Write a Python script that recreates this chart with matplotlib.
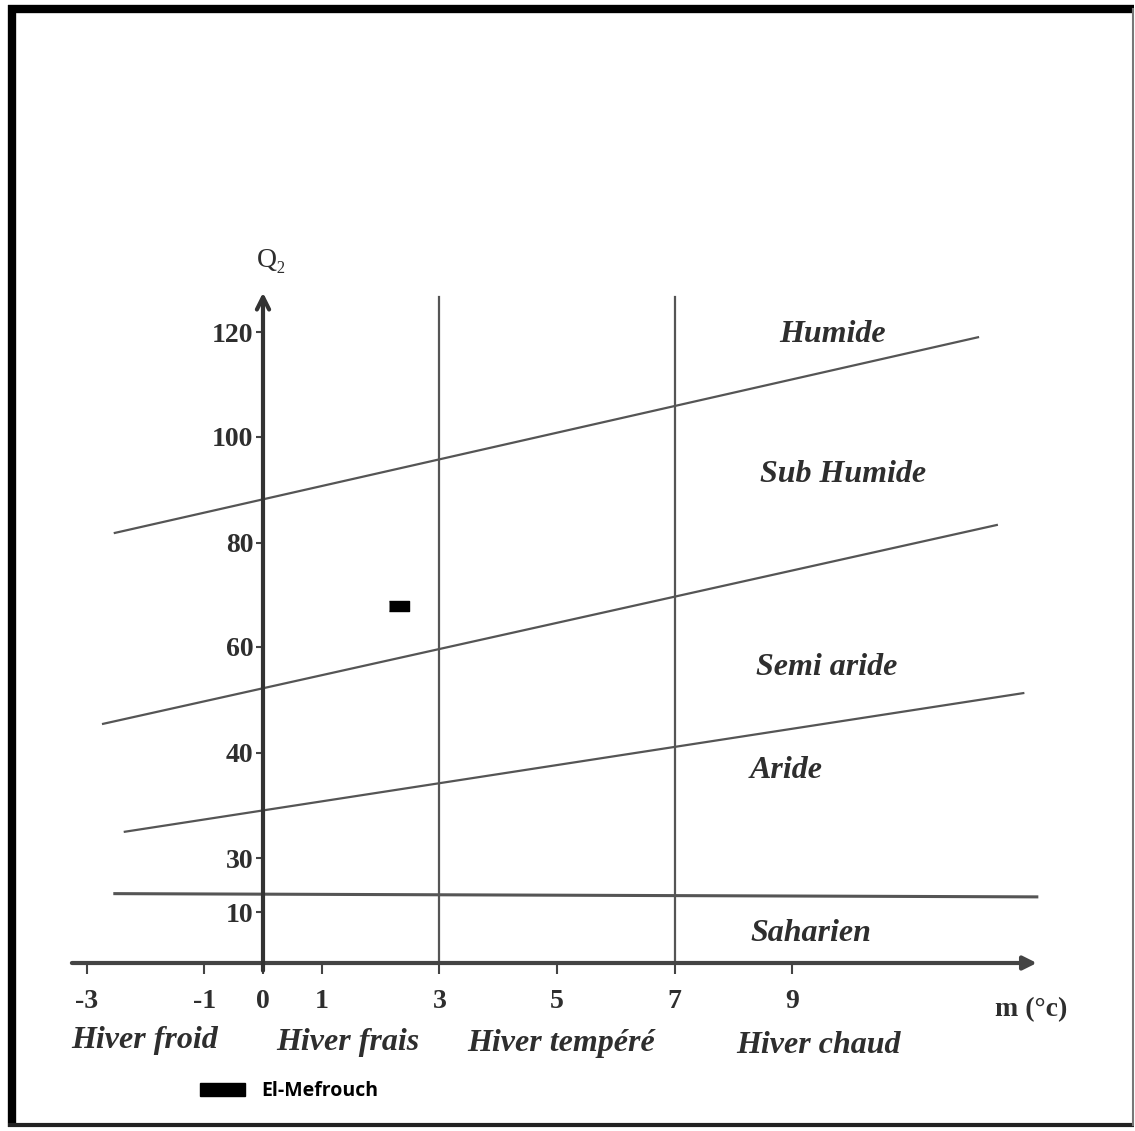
import numpy as np
import matplotlib.pyplot as plt
from matplotlib.lines import Line2D

# climagramme d'Emberger - El-Mefrouch

# graduations de l'axe Q2 (echelle non lineaire) et leur position relative
q_ticks = [10, 30, 40, 60, 80, 100, 120]
q_break = [0, 10, 30, 40, 60, 80, 100, 120]
q_pos = [0, 51, 105, 210, 316, 420, 526, 631]

# graduations de l'axe m (°c)
m_ticks = [-3, -1, 0, 1, 3, 5, 7, 9]

# limites des etages bioclimatiques (debut / fin de chaque droite)
lim_m_start = [-2.52, -2.72, -2.35, -2.52]
lim_q_start = [81.9, 45.5, 32.5, 16.8]
lim_m_end = [12.16, 12.48, 12.93, 13.16]
lim_q_end = [119.0, 83.4, 51.3, 15.6]

# limites des variantes thermiques (hiver)
hiver_m = [3, 7]
hiver_q_top = 126.7

etages = ['Humide', 'Sub Humide', 'Semi aride', 'Aride', 'Saharien']
etages_m = [9.68, 9.86, 9.59, 8.89, 9.32]
etages_q = [119.6, 93.0, 56.2, 38.3, 5.7]

hivers = ['Hiver froid', 'Hiver frais', 'Hiver tempéré', 'Hiver chaud']
hivers_m = [-2.02, 1.45, 5.07, 9.44]
hivers_q = [-15.1, -15.5, -15.7, -16.1]

# station
station = 'El-Mefrouch'
station_m = [2.32]
station_q = [67.9]


def forward(q):
    q = np.asarray(q, dtype=float)
    p = np.interp(q, q_break, q_pos)
    p = np.where(q < 0, q * 5.1, p)
    p = np.where(q > 120, 631 + (q - 120) * 5.25, p)
    return p


def inverse(p):
    p = np.asarray(p, dtype=float)
    q = np.interp(p, q_pos, q_break)
    q = np.where(p < 0, p / 5.1, q)
    q = np.where(p > 631, 120 + (p - 631) / 5.25, q)
    return q


fig = plt.figure(figsize=(11.35, 11.31), dpi=100)
ax = fig.add_axes([0, 0, 1, 1])
ax.set_yscale('function', functions=(forward, inverse))
ax.set_xlim(-263 / 58.8, (1135 - 263) / 58.8)
ax.set_ylim(float(inverse(963 - 1131)), float(inverse(963)))

for s in ax.spines.values():
    s.set_visible(False)
ax.spines['left'].set_position(('data', 0))
ax.spines['bottom'].set_position(('data', 0))

serif = 'Liberation Serif'
txt_col = '#2e2e2e'

ax.set_xticks(m_ticks)
ax.set_xticklabels([str(v) for v in m_ticks], family=serif, fontsize=20, fontweight='bold', color=txt_col)
ax.set_yticks(q_ticks)
ax.set_yticklabels([str(v) for v in q_ticks], family=serif, fontsize=20, fontweight='bold', color=txt_col)
ax.tick_params(axis='x', direction='out', length=8, width=1.5, color='#444', pad=11)
ax.tick_params(axis='y', direction='out', length=5, width=1.5, color='#444', pad=2)
ax.minorticks_off()

# axes avec fleches
ax.annotate('', xy=(13.16, 0), xytext=(-3.25, 0),
            arrowprops=dict(arrowstyle='-|>', lw=3, color='#444', mutation_scale=20, shrinkA=0, shrinkB=0))
ax.annotate('', xy=(0, 127.5), xytext=(0, -1.5),
            arrowprops=dict(arrowstyle='->', lw=3, color='#333', mutation_scale=22, shrinkA=0, shrinkB=0))

# droites des etages
for i in range(len(lim_m_start)):
    lw = 2.2 if i == 3 else 1.6
    ax.plot([lim_m_start[i], lim_m_end[i]], [lim_q_start[i], lim_q_end[i]], color='#555', lw=lw)

for m in hiver_m:
    ax.plot([m, m], [0, hiver_q_top], color='#555', lw=1.6)

for i in range(len(etages)):
    ax.text(etages_m[i], etages_q[i], etages[i], family=serif, style='italic', fontweight='bold',
            fontsize=23, color=txt_col, ha='center', va='center')

for i in range(len(hivers)):
    ax.text(hivers_m[i], hivers_q[i], hivers[i], family=serif, style='italic', fontweight='bold',
            fontsize=23, color=txt_col, ha='center', va='center')

ax.text(13.06, -9.2, 'm (°c)', family=serif, fontweight='bold', fontsize=20, color=txt_col,
        ha='center', va='center')
ax.text(0.14, 133.7, 'Q₂', family=[serif, 'DejaVu Serif'], fontsize=20, color=txt_col,
        ha='center', va='center')

# station El-Mefrouch
rect = [(-1, -0.5), (1, -0.5), (1, 0.5), (-1, 0.5)]
ax.plot(station_m, station_q, linestyle='none', marker=rect, markersize=13.7, color='black')

leg_handle = plt.Rectangle((0, 0), 1, 1, color='black')
ax.legend([leg_handle], [station], loc='center left', bbox_to_anchor=(200 / 1135, 1 - 1091 / 1131),
          frameon=False, borderpad=0, borderaxespad=0, handlelength=2.3, handleheight=0.68,
          handletextpad=0.85, prop={'family': 'Open Sans', 'weight': 'bold', 'size': 14})

# cadre de la figure scannee
fig.add_artist(Line2D([12 / 1135, 12 / 1135], [1 - 5 / 1131, 1 - 1127 / 1131], transform=fig.transFigure,
                      color='black', lw=6, solid_capstyle='butt'))
fig.add_artist(Line2D([8 / 1135, 1 - 1 / 1135], [1 - 9 / 1131, 1 - 9 / 1131], transform=fig.transFigure,
                      color='black', lw=6, solid_capstyle='butt'))
fig.add_artist(Line2D([8 / 1135, 1 - 1 / 1135], [1 - 1125 / 1131, 1 - 1125 / 1131], transform=fig.transFigure,
                      color='#222', lw=3, solid_capstyle='butt'))
fig.add_artist(Line2D([1 - 2 / 1135, 1 - 2 / 1135], [1 - 9 / 1131, 1 - 1125 / 1131], transform=fig.transFigure,
                      color='#777', lw=1.5))

fig.savefig('out.png', dpi=100)
